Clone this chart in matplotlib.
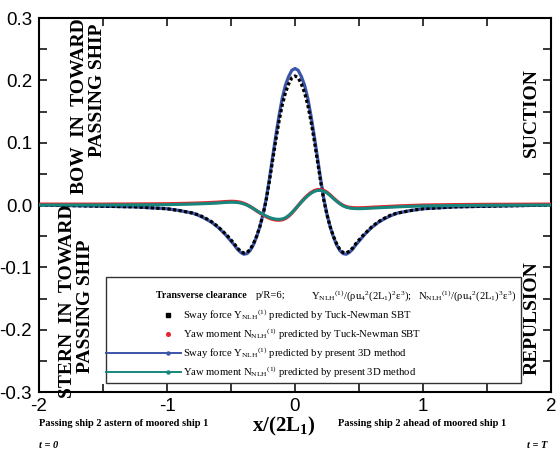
import matplotlib
matplotlib.use("Agg")
import matplotlib.pyplot as plt
from matplotlib.lines import Line2D
from matplotlib.patches import Rectangle
from matplotlib.ticker import MultipleLocator, FormatStrFormatter

# Longitudinal position of passing ship, x/(2L1)
x = [-2.0, -1.75, -1.5, -1.25, -1.0, -0.9, -0.8, -0.75, -0.7, -0.65,
     -0.6, -0.575, -0.55, -0.525, -0.5, -0.475, -0.45, -0.425, -0.4, -0.375,
     -0.35, -0.325, -0.3, -0.275, -0.25, -0.225, -0.2, -0.175, -0.15, -0.125,
     -0.1, -0.075, -0.05, -0.025, 0.0, 0.025, 0.05, 0.075, 0.1, 0.125,
     0.15, 0.175, 0.2, 0.225, 0.25, 0.275, 0.3, 0.325, 0.35, 0.375,
     0.4, 0.425, 0.45, 0.475, 0.5, 0.525, 0.55, 0.575, 0.6,
     0.65, 0.7, 0.75, 0.8, 0.9, 1.0, 1.25, 1.5, 1.75, 2.0]

# Sway force, present 3D method
sway_3d = [0.000, -0.001, -0.002, -0.003, -0.006, -0.009, -0.013, -0.017, -0.022, -0.028,
           -0.036, -0.041, -0.046, -0.052, -0.058, -0.064, -0.071, -0.076, -0.079, -0.078,
           -0.073, -0.064, -0.051, -0.035, -0.015, 0.010, 0.042, 0.077, 0.111, 0.143,
           0.171, 0.192, 0.206, 0.216, 0.219, 0.216, 0.206, 0.192, 0.171, 0.143,
           0.111, 0.077, 0.042, 0.010, -0.015, -0.035, -0.051, -0.064, -0.073, -0.078,
           -0.079, -0.076, -0.071, -0.064, -0.058, -0.052, -0.046, -0.041, -0.036,
           -0.028, -0.022, -0.017, -0.013, -0.009, -0.006, -0.003, -0.002, -0.001, 0.000]

# Sway force, Tuck-Newman slender-body theory
sway_sbt = [0.000, -0.001, -0.002, -0.003, -0.006, -0.009, -0.013, -0.016, -0.021, -0.027,
            -0.035, -0.040, -0.045, -0.050, -0.056, -0.062, -0.069, -0.074, -0.077, -0.076,
            -0.071, -0.062, -0.050, -0.035, -0.016, 0.008, 0.038, 0.071, 0.104, 0.134,
            0.160, 0.180, 0.194, 0.204, 0.207, 0.204, 0.194, 0.180, 0.160, 0.134,
            0.104, 0.071, 0.038, 0.008, -0.016, -0.035, -0.050, -0.062, -0.071, -0.076,
            -0.077, -0.074, -0.069, -0.062, -0.056, -0.050, -0.045, -0.040, -0.035,
            -0.027, -0.021, -0.016, -0.013, -0.009, -0.006, -0.003, -0.002, -0.001, 0.000]

# Yaw moment, present 3D method
yaw_3d = [0.0, 0.0, 0.0, 0.0002, 0.0005, 0.001, 0.0015, 0.0018, 0.0022, 0.0027,
          0.0032, 0.0036, 0.004, 0.0043, 0.0045, 0.0044, 0.004, 0.0032, 0.0018, -0.0002,
          -0.0028, -0.0058, -0.009, -0.012, -0.015, -0.0177, -0.020, -0.0217, -0.0227, -0.023,
          -0.0224, -0.0205, -0.017, -0.0123, -0.0068, -0.001, 0.0047, 0.010, 0.0148, 0.0188,
          0.0217, 0.0233, 0.0235, 0.0222, 0.0193, 0.0152, 0.0105, 0.006, 0.002, -0.0013,
          -0.0035, -0.0048, -0.0055, -0.0058, -0.0059, -0.0058, -0.0056, -0.0053, -0.005,
          -0.0045, -0.004, -0.0035, -0.003, -0.0022, -0.0015, -0.0008, -0.0004, -0.0002, 0.0]

# Yaw moment, Tuck-Newman slender-body theory
yaw_sbt = [0.0012, 0.0012, 0.0012, 0.0014, 0.0018, 0.0022, 0.0027, 0.003, 0.0034, 0.0039,
           0.0044, 0.0048, 0.0052, 0.0055, 0.0057, 0.0056, 0.0051, 0.0042, 0.0026, 0.0004,
           -0.0025, -0.0058, -0.0093, -0.0126, -0.0158, -0.0187, -0.0211, -0.0229, -0.0239, -0.0242,
           -0.0236, -0.0216, -0.018, -0.013, -0.0072, -0.0009, 0.0052, 0.0108, 0.0158, 0.0199,
           0.0229, 0.0245, 0.0247, 0.0233, 0.0203, 0.016, 0.0112, 0.0066, 0.0026, -0.0006,
           -0.0027, -0.0039, -0.0045, -0.0047, -0.0047, -0.0046, -0.0044, -0.0041, -0.0038,
           -0.0033, -0.0028, -0.0023, -0.0018, -0.001, -0.0003, 0.0004, 0.0008, 0.001, 0.0012]

x_ticks = [-2, -1, 0, 1, 2]
x_tick_labels = ["-2", "-1", "0", "1", "2"]

BLUE = "#3b55a8"
TEAL = "#16877d"
RED = "#e8232b"

plt.rcParams["font.family"] = ["Liberation Serif", "DejaVu Serif"]
plt.rcParams["mathtext.fontset"] = "custom"
plt.rcParams["mathtext.rm"] = "Liberation Serif"
plt.rcParams["mathtext.it"] = "Liberation Serif:italic"
plt.rcParams["mathtext.bf"] = "Liberation Serif:bold"

W, H = 556, 449
fig = plt.figure(figsize=(W / 100, H / 100), dpi=100)
ax = fig.add_axes([39 / W, 1 - 392 / H, 512 / W, 374 / H])


def fx(px):
    return px / W


def fy(py):
    return 1 - py / H


ax.plot(x, sway_3d, color=BLUE, lw=2.3, solid_capstyle="butt", zorder=2)
ax.plot(x, sway_sbt, color="black", lw=2.3, ls=(0, (1.0, 0.75)),
        dash_capstyle="butt", zorder=3)
ax.plot(x, yaw_sbt, color=RED, lw=2.5, zorder=4)
ax.plot(x, yaw_3d, color=TEAL, lw=2.2, zorder=5)

ax.set_xlim(-2, 2)
ax.set_ylim(-0.3, 0.3)
ax.set_xticks(x_ticks)
ax.set_xticklabels(x_tick_labels)
ax.xaxis.set_minor_locator(MultipleLocator(0.5))
ax.yaxis.set_major_locator(MultipleLocator(0.1))
ax.yaxis.set_minor_locator(MultipleLocator(0.05))
ax.yaxis.set_major_formatter(FormatStrFormatter("%.1f"))
ax.tick_params(which="both", direction="in", length=5.5, width=1.1,
               top=True, right=True)
ax.tick_params(axis="y", pad=5)
ax.tick_params(axis="x", pad=4)
for lab in ax.get_xticklabels() + ax.get_yticklabels():
    lab.set_fontfamily("Liberation Sans")
    lab.set_fontsize(13.5)
for sp in ax.spines.values():
    sp.set_linewidth(1.5)

# region annotations
side_kw = dict(rotation=90, fontsize=14, fontweight="bold", ha="center",
               va="center", transform=fig.transFigure)
fig.text(fx(80), fy(106), "BOW  IN  TOWARD", **side_kw)
fig.text(fx(97), fy(90), "PASSING SHIP", **side_kw)
fig.text(fx(68), fy(301), "STERN  IN  TOWARD", **side_kw)
fig.text(fx(86), fy(306), "PASSING SHIP", **side_kw)
fig.text(fx(531), fy(113), "SUCTION", **side_kw)
fig.text(fx(532), fy(318), "REPULSION", **side_kw)

# axis annotations
fig.text(fx(284), fy(426), r"x/(2L$_\mathbf{1}$)", fontsize=15, fontweight="bold",
         ha="center", va="center")
fig.text(fx(39), fy(424), "Passing ship 2 astern of moored ship 1", fontsize=7.5,
         fontweight="bold", ha="left", va="center")
fig.text(fx(338), fy(424), "Passing ship 2 ahead of moored ship 1", fontsize=7.5,
         fontweight="bold", ha="left", va="center")
fig.text(fx(39), fy(446), "t = 0", fontsize=7.5, fontweight="bold", style="italic",
         ha="left", va="center")
fig.text(fx(547), fy(446), "t = T", fontsize=7.5, fontweight="bold", style="italic",
         ha="right", va="center")

# legend panel
box = Rectangle((fx(106), fy(383)), fx(521) - fx(106), fy(277) - fy(383),
                transform=fig.transFigure, facecolor="white", edgecolor="#333333",
                lw=1.0, zorder=6)
fig.add_artist(box)
leg_fs = 7.7
fig.text(fx(156), fy(296), "Transverse clearance", fontsize=7.2, fontweight="bold",
         ha="left", va="center", zorder=7)
fig.text(fx(256), fy(296), "p/R=6;", fontsize=leg_fs, ha="left", va="center", zorder=7)
fig.text(fx(311), fy(296),
         r"Y$_{\rm NLH}{}^{(1)}$/(ρu$_4{}^2$(2L$_1$)$^2$ε$^3$);",
         fontsize=leg_fs, ha="left", va="center", zorder=7)
fig.text(fx(418), fy(296),
         r"N$_{\rm NLH}{}^{(1)}$/(ρu$_4{}^2$(2L$_1$)$^3$ε$^3$)",
         fontsize=leg_fs, ha="left", va="center", zorder=7)

rows = [
    (315, r"Sway force Y$_{\rm NLH}{}^{(1)}$ predicted by Tuck-Newman SBT"),
    (334, r"Yaw moment N$_{\rm NLH}{}^{(1)}$ predicted by Tuck-Newman SBT"),
    (353, r"Sway force Y$_{\rm NLH}{}^{(1)}$ predicted by present 3D method"),
    (372, r"Yaw moment N$_{\rm NLH}{}^{(1)}$ predicted by present 3D method"),
]
for yy, label in rows:
    fig.text(fx(183), fy(yy), label, fontsize=leg_fs, ha="left", va="center", zorder=7)

fig.add_artist(Line2D([fx(168)], [fy(315)], transform=fig.transFigure, marker="s",
                      ms=3.2, color="black", ls="none", zorder=7))
fig.add_artist(Line2D([fx(168)], [fy(334)], transform=fig.transFigure, marker="o",
                      ms=2.6, color=RED, ls="none", zorder=7))
for yy, col in [(353, BLUE), (372, TEAL)]:
    fig.add_artist(Line2D([fx(106), fx(181)], [fy(yy), fy(yy)], transform=fig.transFigure,
                          color=col, lw=1.4, zorder=7))
    fig.add_artist(Line2D([fx(168)], [fy(yy)], transform=fig.transFigure, marker="o",
                          ms=2.2, color=col, ls="none", zorder=7))

fig.savefig("out.png", dpi=100)
